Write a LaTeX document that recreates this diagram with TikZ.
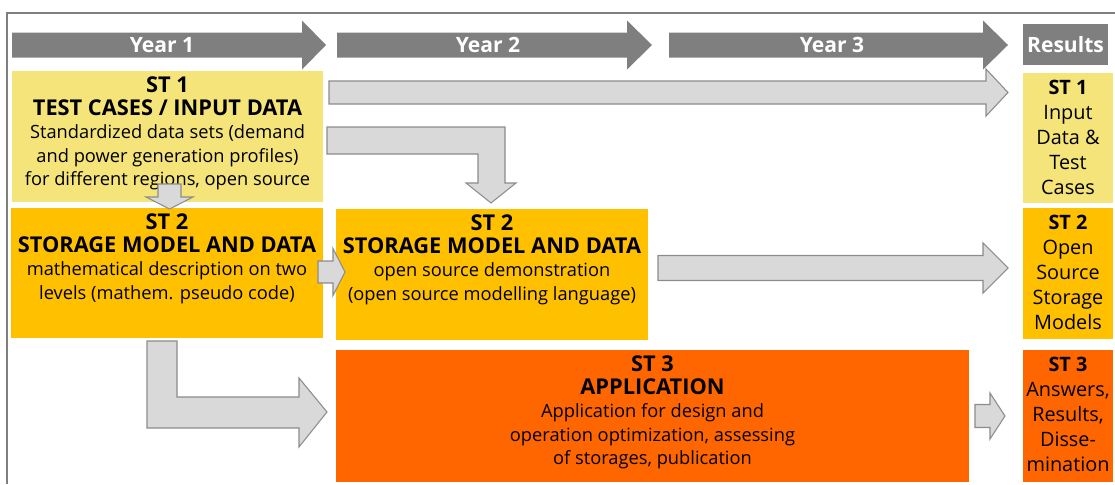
\documentclass[tikz,border=0pt]{standalone}
\usepackage{fontspec}
\setmainfont{Open Sans}
\usetikzlibrary{fit,positioning}
\definecolor{hdrgray}{HTML}{7F7F7F}
\definecolor{arrfill}{HTML}{D9D9D9}
\definecolor{arrline}{HTML}{8C8C8C}
\definecolor{styellow}{HTML}{F4E47A}
\definecolor{storange}{HTML}{FFC000}
\definecolor{stred}{HTML}{FF6600}
% block arrow: [style](start, head base, tip, y centre, body half, head half)
\def\harrow[#1](#2,#3,#4,#5,#6,#7){\draw[#1] (#2,#5-#6) -- (#3,#5-#6) -- (#3,#5-#7) -- (#4,#5) -- (#3,#5+#7) -- (#3,#5+#6) -- (#2,#5+#6) -- cycle;}
\newcommand{\hd}[1]{{\fontsize{12.4}{13.3}\selectfont\bfseries #1}}
\tikzset{
  box/.style={inner sep=0pt, outer sep=0pt, draw=none},
  hdrtxt/.style={text=white, font=\fontsize{12}{14}\selectfont\bfseries},
  sttxt/.style={anchor=north, align=center, inner sep=0pt, yshift=-2.8pt, font=\fontsize{10.4}{13.3}\selectfont},
  restxt/.style={anchor=north, align=center, inner sep=0pt, yshift=-3.8pt, font=\fontsize{11.3}{14.2}\selectfont},
  greyarrow/.style={fill=arrfill, draw=arrline, line width=0.6pt, line join=miter},
  yeararrow/.style={fill=hdrgray, draw=none},
}

\begin{document}
\begin{tikzpicture}[x=0.02cm, y=-0.02cm]
			\useasboundingbox (0,0) rectangle (1115,484);
			
			%%%%% FRAME %%%%%
			\draw[hdrgray, line width=0.8pt] (7,484) -- (7,13) -- (1115,13);
			
			%%%%% YEARS %%%%%
			\harrow[yeararrow](12,302,326,45,12.5,24.5)
			\harrow[yeararrow](337,627,652,45,12.5,24.5)
			\harrow[yeararrow](669,983,1008,45,12.5,24.5)
			\node[hdrtxt] (yr1) at (162,45) {Year 1};
			\node[hdrtxt] (yr2) at (488,45) {Year 2};
			\node[hdrtxt] (yr3) at (832,45) {Year 3};
			\node[box, fill=hdrgray, fit={(1023,24) (1108,65)}] (res) {};
			\node[hdrtxt] (restitle) at (res.center) {Results};
			
			%%%%% BOXES %%%%%
			\node[box, fill=styellow, fit={(12,71) (323,202)}] (st1) {};
			\node[box, fill=storange, fit={(11,208) (323,338)}] (st2a) {};
			\node[box, fill=storange, fit={(336,209) (648,340)}] (st2b) {};
			\node[box, fill=stred, fit={(336,350) (969,482)}] (st3) {};
			\node[box, fill=styellow, fit={(1023,73) (1113,203)}] (res1) {};
			\node[box, fill=storange, fit={(1023,208) (1113,339)}] (res2) {};
			\node[box, fill=stred, fit={(1023,350) (1113,482)}] (res3) {};
			
			\node[sttxt] (st1t) at (st1.north) {\hd{ST 1}\\\hd{TEST CASES / INPUT DATA}\\Standardized data sets (demand\\and power generation profiles)\\for different regions, open source};
			\node[sttxt] (st2at) at (st2a.north) {\hd{ST 2}\\\hd{STORAGE MODEL AND DATA}\\mathematical description on two\\levels (mathem. pseudo code)};
			\node[sttxt] (st2bt) at (st2b.north) {\hd{ST 2}\\\hd{STORAGE MODEL AND DATA}\\open source demonstration\\(open source modelling language)};
			\node[sttxt] (st3t) at (st3.north) {\hd{ST 3}\\\hd{APPLICATION}\\Application for design and\\operation optimization, assessing\\of storages, publication};
			\node[restxt] (res1t) at (res1.north) {\textbf{ST 1}\\Input\\Data \&\\Test\\Cases};
			\node[restxt] (res2t) at (res2.north) {\textbf{ST 2}\\Open\\Source\\Storage\\Models};
			\node[restxt] (res3t) at (res3.north) {\textbf{ST 3}\\Answers,\\Results,\\Disse-\\mination};
			
			%%%%% ARROWS %%%%%
			\harrow[greyarrow](329,986,1008,92.5,11.5,23.5)
			\harrow[greyarrow](658,983,1008,268,12.5,25)
			\harrow[greyarrow](318,333,345,272,11,23.5)
			\harrow[greyarrow](975,990,1005,416,11.5,23)
			\draw[greyarrow] (158,184) -- (181,184) -- (181,197) -- (193,197) -- (169.5,209) -- (146,197) -- (158,197) -- cycle;
			\draw[greyarrow] (327,127) -- (505,127) -- (505,183) -- (516,183) -- (491,203) -- (466,183) -- (478,183) -- (478,154) -- (327,154) -- cycle;
			\draw[greyarrow] (147,341) -- (177,341) -- (177,397) -- (299,397) -- (299,378) -- (327,412) -- (299,447) -- (299,428) -- (147,428) -- cycle;
		\end{tikzpicture}
\end{document}
